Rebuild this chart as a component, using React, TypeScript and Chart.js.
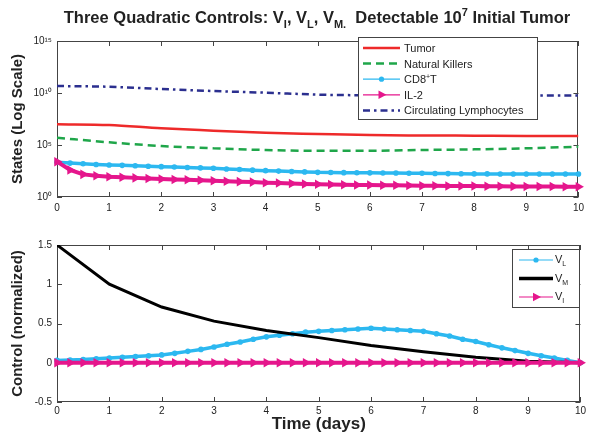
import React, { useEffect, useRef } from "react";
import { Chart, registerables } from "chart.js";

Chart.register(...registerables);

const FONT = "'Liberation Sans', Arial, Helvetica, sans-serif";

// ---------- data ----------
const timeCoarse = [0, 1, 2, 3, 4, 5, 6, 7, 8, 9, 10];
const timeFine = [
  0, 0.25, 0.5, 0.75, 1, 1.25, 1.5, 1.75, 2, 2.25, 2.5, 2.75, 3, 3.25, 3.5, 3.75, 4, 4.25, 4.5, 4.75,
  5, 5.25, 5.5, 5.75, 6, 6.25, 6.5, 6.75, 7, 7.25, 7.5, 7.75, 8, 8.25, 8.5, 8.75, 9, 9.25, 9.5, 9.75, 10,
];

const tumor = [1e7, 8.3e6, 4e6, 2.4e6, 1.5e6, 1.15e6, 9e5, 8.3e5, 7.9e5, 7.5e5, 7.4e5];
const naturalKillers = [5e5, 1.8e5, 8e4, 4.8e4, 3.3e4, 2.8e4, 2.8e4, 3.3e4, 3.8e4, 4.8e4, 6.9e4];
const circulatingLymphocytes = [4.7e10, 4e10, 2.4e10, 1.55e10, 1.07e10, 7e9, 6e9, 5.8e9, 5.7e9, 5.7e9, 5.7e9];
const cd8T = [
  2190, 1820, 1550, 1350, 1200, 1100, 1000, 910, 830, 760, 690, 630, 575, 500, 440, 380, 340, 310, 280, 260,
  235, 230, 220, 215, 210, 205, 200, 195, 190, 182, 178, 170, 166, 166, 164, 162, 162, 162, 162, 162, 162,
];
const il2 = [
  2500, 400, 150, 112, 89, 79, 69, 60, 54, 49, 45, 41, 37, 33, 30, 27, 24, 22, 20, 18.2,
  16.6, 15.8, 15.1, 14.6, 14.1, 13.6, 13.2, 12.7, 12.3, 12.0, 11.7, 11.5, 11.2, 11.0, 10.7, 10.5, 10.2, 10.1, 10, 9.9, 9.8,
];

const controlVM = [1.5, 1.0, 0.71, 0.53, 0.41, 0.32, 0.22, 0.14, 0.07, 0.02, 0];
const controlVL = [
  0.03, 0.035, 0.04, 0.05, 0.06, 0.07, 0.08, 0.09, 0.1, 0.12, 0.145, 0.17, 0.2, 0.235, 0.265, 0.3, 0.33, 0.35, 0.37, 0.39,
  0.4, 0.41, 0.42, 0.43, 0.44, 0.43, 0.42, 0.41, 0.4, 0.37, 0.34, 0.3, 0.27, 0.23, 0.19, 0.155, 0.12, 0.09, 0.06, 0.03, 0,
];
const controlVI = [
  0, 0, 0, 0, 0, 0, 0, 0, 0, 0, 0, 0, 0, 0, 0, 0, 0, 0, 0, 0,
  0, 0, 0, 0, 0, 0, 0, 0, 0, 0, 0, 0, 0, 0, 0, 0, 0, 0, 0, 0, 0,
];

const timeTicks = [0, 1, 2, 3, 4, 5, 6, 7, 8, 9, 10];
const stateTicks = [1, 1e5, 1e10, 1e15];
const stateTickLabels = ["10\u2070", "10\u2075", "10\u00b9\u2070", "10\u00b9\u2075"];
const controlTicks = [-0.5, 0, 0.5, 1, 1.5];
const controlTickLabels = ["-0.5", "0", "0.5", "1", "1.5"];

const stateNames = ["Tumor", "Natural Killers", "CD8+T", "IL-2", "Circulating Lymphocytes"];
const controlNames = ["VL", "VM", "VI"];

const C_RED = "#ee2a2a";
const C_GREEN = "#1fa64a";
const C_CYAN = "#2cb8f0";
const C_MAGENTA = "#e5168c";
const C_NAVY = "#2b2f8f";
const C_BLACK = "#000000";
const AXIS = "#444444";
const TEXT = "#222222";

// ---------- helpers ----------
type Seg = { t: string; s?: "sub" | "sup" };

function drawRich(ctx: CanvasRenderingContext2D, segs: Seg[], x: number, y: number, size: number, weight: string, align: "left" | "center") {
  const small = Math.round(size * 0.68);
  let w = 0;
  for (const s of segs) {
    ctx.font = `${weight} ${s.s ? small : size}px ${FONT}`;
    w += ctx.measureText(s.t).width;
  }
  let cx = align === "center" ? x - w / 2 : x;
  ctx.textAlign = "left";
  ctx.textBaseline = "alphabetic";
  for (const s of segs) {
    ctx.font = `${weight} ${s.s ? small : size}px ${FONT}`;
    const dy = s.s === "sub" ? size * 0.28 : s.s === "sup" ? -size * 0.42 : 0;
    ctx.fillText(s.t, cx, y + dy);
    cx += ctx.measureText(s.t).width;
  }
}

function drawTriangleRight(ctx: CanvasRenderingContext2D, x: number, y: number, r: number, color: string) {
  ctx.save();
  ctx.fillStyle = color;
  ctx.beginPath();
  ctx.moveTo(x + r, y);
  ctx.lineTo(x - r * 0.6, y - r * 0.85);
  ctx.lineTo(x - r * 0.6, y + r * 0.85);
  ctx.closePath();
  ctx.fill();
  ctx.restore();
}

function drawSample(ctx: CanvasRenderingContext2D, kind: string, color: string, x1: number, x2: number, y: number) {
  ctx.save();
  ctx.strokeStyle = color;
  ctx.lineCap = "butt";
  const mid = (x1 + x2) / 2;
  if (kind === "solid") {
    ctx.lineWidth = 2.5;
  } else if (kind === "thick") {
    ctx.lineWidth = 3.5;
  } else if (kind === "dash") {
    ctx.lineWidth = 2.5;
    ctx.setLineDash([8, 5]);
  } else if (kind === "dashdot") {
    ctx.lineWidth = 2.5;
    ctx.setLineDash([7, 4, 2.5, 4]);
  } else {
    ctx.lineWidth = 1.2;
  }
  ctx.beginPath();
  ctx.moveTo(x1, y);
  ctx.lineTo(x2, y);
  ctx.stroke();
  ctx.setLineDash([]);
  if (kind === "dot") {
    ctx.fillStyle = color;
    ctx.beginPath();
    ctx.arc(mid, y, 2.6, 0, Math.PI * 2);
    ctx.fill();
  } else if (kind === "tri") {
    drawTriangleRight(ctx, mid, y, 5, color);
  }
  ctx.restore();
}

const boxPlugin = {
  id: "boxTicks",
  beforeDatasetsDraw(chart: any) {
    const { ctx, chartArea, scales } = chart;
    const { left, right, top, bottom } = chartArea;
    ctx.save();
    ctx.strokeStyle = AXIS;
    ctx.lineWidth = 1;
    ctx.strokeRect(Math.round(left) + 0.5, Math.round(top) + 0.5, Math.round(right - left) - 1, Math.round(bottom - top) - 1);
    ctx.beginPath();
    for (const t of scales.x.ticks) {
      const px = Math.round(scales.x.getPixelForValue(t.value)) + 0.5;
      ctx.moveTo(px, bottom);
      ctx.lineTo(px, bottom - 5);
      ctx.moveTo(px, top);
      ctx.lineTo(px, top + 5);
    }
    for (const t of scales.y.ticks) {
      const py = Math.round(scales.y.getPixelForValue(t.value)) + 0.5;
      ctx.moveTo(left, py);
      ctx.lineTo(left + 5, py);
      ctx.moveTo(right, py);
      ctx.lineTo(right - 5, py);
    }
    ctx.stroke();
    ctx.restore();
  },
};

const topDecor = {
  id: "topDecor",
  afterDraw(chart: any) {
    const { ctx } = chart;
    ctx.save();
    ctx.fillStyle = TEXT;
    drawRich(
      ctx,
      [
        { t: "Three Quadratic Controls: V" },
        { t: "I", s: "sub" },
        { t: ", V" },
        { t: "L", s: "sub" },
        { t: ", V" },
        { t: "M", s: "sub" },
        { t: ".", s: "sub" },
        { t: "  Detectable 10" },
        { t: "7", s: "sup" },
        { t: " Initial Tumor" },
      ],
      317,
      23,
      16.5,
      "bold",
      "center"
    );
    // legend
    const bx = 358, by = 37, bw = 179, bh = 82;
    ctx.fillStyle = "#ffffff";
    ctx.fillRect(bx, by, bw, bh);
    ctx.strokeStyle = AXIS;
    ctx.lineWidth = 1;
    ctx.strokeRect(bx + 0.5, by + 0.5, bw, bh);
    const kinds = ["solid", "dash", "dot", "tri", "dashdot"];
    const colors = [C_RED, C_GREEN, C_CYAN, C_MAGENTA, C_NAVY];
    stateNames.forEach((name, i) => {
      const y = 48 + i * 15.6;
      drawSample(ctx, kinds[i], colors[i], 363, 400, y);
      ctx.fillStyle = TEXT;
      if (name === "CD8+T") {
        drawRich(ctx, [{ t: "CD8" }, { t: "+", s: "sup" }, { t: "T" }], 404, y + 4, 11, "normal", "left");
      } else {
        drawRich(ctx, [{ t: name }], 404, y + 4, 11, "normal", "left");
      }
    });
    ctx.restore();
  },
};

const bottomDecor = {
  id: "bottomDecor",
  afterDraw(chart: any) {
    const { ctx } = chart;
    ctx.save();
    const bx = 512, by = 27, bw = 67, bh = 58;
    ctx.fillStyle = "#ffffff";
    ctx.fillRect(bx, by, bw, bh);
    ctx.strokeStyle = AXIS;
    ctx.lineWidth = 1;
    ctx.strokeRect(bx + 0.5, by + 0.5, bw, bh);
    const kinds = ["dot", "thick", "tri"];
    const colors = [C_CYAN, C_BLACK, C_MAGENTA];
    const ys = [38, 56.5, 75];
    controlNames.forEach((name, i) => {
      const y = ys[i];
      drawSample(ctx, kinds[i], colors[i], 519, 553, y);
      ctx.fillStyle = TEXT;
      drawRich(ctx, [{ t: name.charAt(0) }, { t: name.slice(1), s: "sub" }], 555, y + 3, 11, "normal", "left");
    });
    ctx.restore();
  },
};

function pts(xs: number[], ys: number[]) {
  return xs.map((x, i) => ({ x, y: ys[i] }));
}

const tickFont = { family: FONT, size: 10 };

function xScale(labels: boolean, height: number, padding: number, title?: string) {
  return {
    type: "linear" as const,
    min: 0,
    max: 10,
    grid: { display: false, drawTicks: false },
    border: { display: false },
    afterBuildTicks: (s: any) => {
      s.ticks = timeTicks.map((v) => ({ value: v }));
    },
    afterFit: (s: any) => {
      s.height = height;
    },
    ticks: { display: labels, font: tickFont, color: TEXT, padding, maxRotation: 0, autoSkip: false },
    title: title
      ? { display: true, text: title, font: { family: FONT, size: 17, weight: "bold" }, color: TEXT, padding: { top: 0, bottom: 0 } }
      : { display: false },
  };
}

export default function App() {
  const topRef = useRef<HTMLCanvasElement | null>(null);
  const botRef = useRef<HTMLCanvasElement | null>(null);

  useEffect(() => {
    document.body.style.margin = "0";
    Chart.defaults.font.family = FONT;

    const top = new Chart(topRef.current as HTMLCanvasElement, {
      type: "line",
      data: {
        datasets: [
          {
            label: stateNames[0],
            data: pts(timeCoarse, tumor),
            borderColor: C_RED,
            borderWidth: 2.5,
            pointRadius: 0,
            cubicInterpolationMode: "monotone",
            order: 5,
          },
          {
            label: stateNames[1],
            data: pts(timeCoarse, naturalKillers),
            borderColor: C_GREEN,
            borderWidth: 2.5,
            borderDash: [8, 5],
            pointRadius: 0,
            cubicInterpolationMode: "monotone",
            order: 4,
          },
          {
            label: stateNames[2],
            data: pts(timeFine, cd8T),
            borderColor: C_CYAN,
            backgroundColor: C_CYAN,
            borderWidth: 3.5,
            pointRadius: 2.8,
            pointBorderWidth: 0,
            pointStyle: "circle",
            clip: false,
            order: 3,
          },
          {
            label: stateNames[3],
            data: pts(timeFine, il2),
            borderColor: C_MAGENTA,
            backgroundColor: C_MAGENTA,
            borderWidth: 4,
            pointRadius: 5.5,
            pointBorderWidth: 0,
            pointStyle: "triangle",
            rotation: 90,
            clip: false,
            order: 2,
          },
          {
            label: stateNames[4],
            data: pts(timeCoarse, circulatingLymphocytes),
            borderColor: C_NAVY,
            borderWidth: 2.5,
            borderDash: [7, 4, 2.5, 4],
            pointRadius: 0,
            cubicInterpolationMode: "monotone",
            order: 1,
          },
        ],
      },
      options: {
        responsive: false,
        animation: false,
        events: [],
        layout: { padding: { top: 41, right: 6, left: 0, bottom: 0 } },
        plugins: { legend: { display: false }, tooltip: { enabled: false }, title: { display: false } },
        scales: {
          x: xScale(true, 25, 5),
          y: {
            type: "logarithmic",
            min: 1,
            max: 1e15,
            grid: { display: false, drawTicks: false },
            border: { display: false },
            afterBuildTicks: (s: any) => {
              s.ticks = stateTicks.map((v) => ({ value: v }));
            },
            afterFit: (s: any) => {
              s.width = 57;
            },
            ticks: {
              font: tickFont,
              color: TEXT,
              padding: 5,
              autoSkip: false,
              callback: (v: any) => {
                const i = stateTicks.indexOf(Number(v));
                return i >= 0 ? stateTickLabels[i] : "";
              },
            },
            title: {
              display: true,
              text: "States (Log Scale)",
              font: { family: FONT, size: 15, weight: "bold" },
              color: TEXT,
              padding: { top: 9, bottom: 0 },
            },
          },
        },
      },
      plugins: [boxPlugin, topDecor],
    } as any);

    const bottom = new Chart(botRef.current as HTMLCanvasElement, {
      type: "line",
      data: {
        datasets: [
          {
            label: controlNames[0],
            data: pts(timeFine, controlVL),
            borderColor: C_CYAN,
            backgroundColor: C_CYAN,
            borderWidth: 3.5,
            pointRadius: 2.8,
            pointBorderWidth: 0,
            pointStyle: "circle",
            clip: false,
            order: 3,
          },
          {
            label: controlNames[1],
            data: pts(timeCoarse, controlVM),
            borderColor: C_BLACK,
            borderWidth: 3,
            pointRadius: 0,
            tension: 0,
            order: 2,
          },
          {
            label: controlNames[2],
            data: pts(timeFine, controlVI),
            borderColor: C_MAGENTA,
            backgroundColor: C_MAGENTA,
            borderWidth: 4,
            pointRadius: 5.5,
            pointBorderWidth: 0,
            pointStyle: "triangle",
            rotation: 90,
            clip: false,
            order: 1,
          },
        ],
      },
      options: {
        responsive: false,
        animation: false,
        events: [],
        layout: { padding: { top: 23, right: 6, left: 0, bottom: 0 } },
        plugins: { legend: { display: false }, tooltip: { enabled: false }, title: { display: false } },
        scales: {
          x: xScale(true, 33, 3, "Time (days)"),
          y: {
            type: "linear",
            min: -0.5,
            max: 1.5,
            grid: { display: false, drawTicks: false },
            border: { display: false },
            afterBuildTicks: (s: any) => {
              s.ticks = controlTicks.map((v) => ({ value: v }));
            },
            afterFit: (s: any) => {
              s.width = 57;
            },
            ticks: {
              font: tickFont,
              color: TEXT,
              padding: 5,
              autoSkip: false,
              callback: (v: any) => {
                const i = controlTicks.indexOf(Number(v));
                return i >= 0 ? controlTickLabels[i] : "";
              },
            },
            title: {
              display: true,
              text: "Control (normalized)",
              font: { family: FONT, size: 15, weight: "bold" },
              color: TEXT,
              padding: { top: 9, bottom: 0 },
            },
          },
        },
      },
      plugins: [boxPlugin, bottomDecor],
    } as any);

    return () => {
      top.destroy();
      bottom.destroy();
    };
  }, []);

  return (
    <div style={{ position: "relative", width: 589, height: 435, background: "#ffffff" }}>
      <canvas ref={topRef} width={589} height={222} style={{ position: "absolute", left: 0, top: 0 }} />
      <canvas ref={botRef} width={589} height={213} style={{ position: "absolute", left: 0, top: 222 }} />
    </div>
  );
}
